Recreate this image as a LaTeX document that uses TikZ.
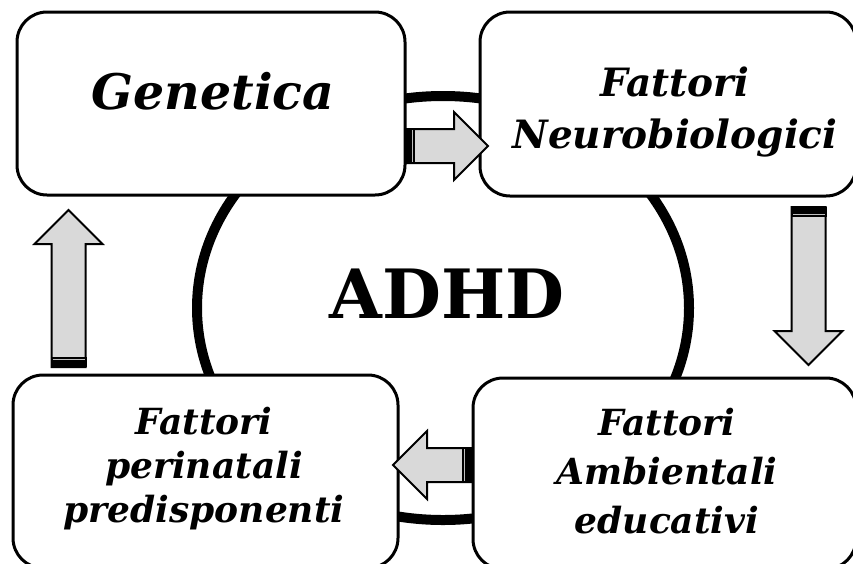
\documentclass[tikz,border=0pt]{standalone}
\usepackage{fontspec}
\setmainfont{DejaVu Serif}
\usetikzlibrary{positioning, calc}
\definecolor{arrowgray}{gray}{0.85}
\definecolor{stripe}{gray}{0.75}
% block arrow: tail point, angle, length
\newcommand{\blockarrow}[3]{%
    \begin{scope}[shift={#1}, rotate=#2]
        \filldraw[fill=arrowgray, line width=2pt, line join=miter] (0,-17) -- (#3-34,-17) -- (#3-34,-34) -- (#3,0) -- (#3-34,34) -- (#3-34,17) -- (0,17) -- cycle;
        \fill (0,-18) rectangle (10,18);
        \draw[stripe, line width=1.5pt] (7.6,-16) -- (7.6,16);
    \end{scope}}

\begin{document}
\begin{tikzpicture}[x=1pt, y=-1pt,
    box/.style={draw, line width=3pt, rounded corners=30pt, fill=white, inner sep=0pt},
    lbl/.style={align=center, inner sep=0pt, font=\bfseries\itshape\fontsize{39}{52}\selectfont}]
    \clip (0,0) rectangle (853,563);
    \draw[line width=10pt] (443,308) ellipse [x radius=246pt, y radius=212pt];
    \node[box, minimum width=388pt, minimum height=183pt] (gen) at (211,103.5) {};
    \node[box, minimum width=376pt, minimum height=184pt] (neuro) at (668,104) {};
    \node[box, minimum width=385pt, minimum height=193pt] (peri) at (205.5,471.5) {};
    \node[box, minimum width=383pt, minimum height=191pt] (amb) at (664.5,473.5) {};
    % labels
    \node[lbl, font=\bfseries\itshape\fontsize{49}{52}\selectfont] (genT) at (213,91) {Genetica};
    \node[lbl] (neuroT) at (675,112) {Fattori\\Neurobiologici};
    \node[lbl, font=\bfseries\itshape\fontsize{36}{44}\selectfont] (periT) at (204,469) {Fattori\\perinatali\\predisponenti};
    \node[lbl, font=\bfseries\itshape\fontsize{36}{49}\selectfont] (ambT) at (667,471) {Fattori\\Ambientali\\educativi};
    \node[inner sep=0pt, font=\bfseries\fontsize{68}{70}\selectfont] (adhd) at (447,294) {ADHD};
    % arrows round the cycle
    \coordinate (a1) at ($(gen.east)+(-1.5,42.5)$);
    \coordinate (a2) at (808.5,207);
    \coordinate (a3) at (68.5,367);
    \coordinate (a4) at (472,465);
    \blockarrow{(a1)}{0}{83}
    \blockarrow{(a2)}{-90}{158}
    \blockarrow{(a3)}{90}{157}
    \blockarrow{(a4)}{180}{79}
\end{tikzpicture}
\end{document}
